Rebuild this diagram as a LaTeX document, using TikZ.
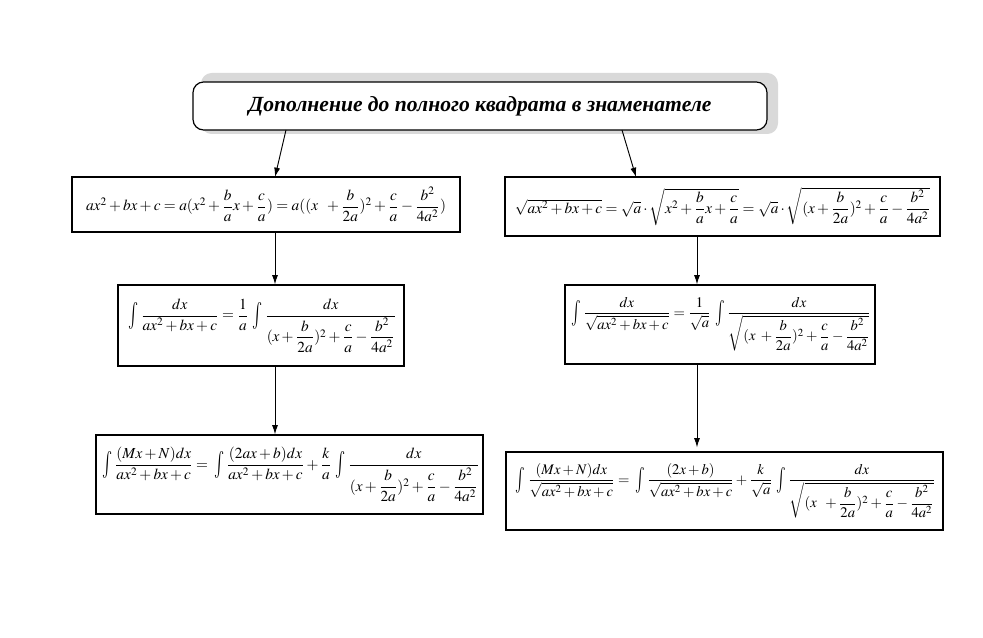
\documentclass[tikz,border=0pt]{standalone}
\usepackage{amsmath}
\usepackage{graphicx}
\usepackage{mathptmx}
\usepackage{fontspec}
\setmainfont{Liberation Serif}
\usetikzlibrary{arrows.meta}
\newcommand{\Int}{\mkern3mu\mathop{\vcenter{\hbox{\scalebox{1.1}[1.75]{$\textstyle\int$}}}}\mkern1mu}
\tikzset{
  fbox/.style={draw, line width=0.9pt, minimum width=#1, inner sep=0pt, font=\fontsize{11.5}{13.5}\selectfont},
  arr/.style={line width=0.7pt, -{Latex[length=7pt,width=4.5pt]}},
}
\begin{document}
\begin{tikzpicture}[x=0.75pt,y=-0.75pt]
\useasboundingbox (0,0) rectangle (983,638);
\fill[white] (0,0) rectangle (983,638);
% shadow of the title box
\fill[gray!30, rounded corners=8pt] (201,73) rectangle (778,134);
\node[draw, line width=0.9pt, fill=white, rounded corners=8pt, minimum width=430.5pt, minimum height=36pt, font=\fontsize{16.2}{18}\selectfont\bfseries\itshape] (top) at (480,106) {Дополнение до полного квадрата в знаменателе};

\node[fbox=291pt, minimum height=41.25pt] (l1) at (266,204.5)
  {$ax^2+bx+c=a(x^2+\dfrac{b}{a}x+\dfrac{c}{a})=a((x\;\;+\dfrac{b}{2a})^2+\dfrac{c}{a}-\dfrac{b^2}{4a^2})$};
\node[fbox=326.25pt, minimum height=44.25pt] (r1) at (722.5,206.5)
  {$\sqrt{ax^2+bx+c}=\sqrt{a}\cdot\sqrt{x^2+\dfrac{b}{a}x+\dfrac{c}{a}}=\sqrt{a}\cdot\sqrt{(x+\dfrac{b}{2a})^2+\dfrac{c}{a}-\dfrac{b^2}{4a^2}}$};
\node[fbox=214.5pt, minimum height=60.75pt] (l2) at (261,325.5)
  {$\Int\dfrac{dx}{ax^2+bx+c}=\dfrac{1}{a}\Int\dfrac{dx}{(x+\dfrac{b}{2a})^2+\dfrac{c}{a}-\dfrac{b^2}{4a^2}}$};
\node[fbox=232.5pt, minimum height=59.25pt, font=\fontsize{11}{13}\selectfont] (r2) at (720,324.5)
  {$\Int\dfrac{dx}{\sqrt{ax^2+bx+c}}=\dfrac{1}{\sqrt{a}}\Int\dfrac{dx}{\sqrt{(x\;+\dfrac{b}{2a})^2+\dfrac{c}{a}-\dfrac{b^2}{4a^2}}}$};
\node[fbox=290.25pt, minimum height=59.25pt] (l3) at (289.5,474.5)
  {$\Int\dfrac{(Mx+N)dx}{ax^2+bx+c}=\Int\dfrac{(2ax+b)dx}{ax^2+bx+c}+\dfrac{k}{a}\Int\dfrac{dx}{(x+\dfrac{b}{2a})^2+\dfrac{c}{a}-\dfrac{b^2}{4a^2}}$};
\node[fbox=327.75pt, minimum height=58.5pt, font=\fontsize{11}{13}\selectfont] (r3) at (724.5,491)
  {$\Int\dfrac{(Mx+N)dx}{\sqrt{ax^2+bx+c}}=\Int\dfrac{(2x+b)}{\sqrt{ax^2+bx+c}}+\dfrac{k}{\sqrt{a}}\Int\dfrac{dx}{\sqrt{(x\;\;+\dfrac{b}{2a})^2+\dfrac{c}{a}-\dfrac{b^2}{4a^2}}}$};

\coordinate (ta) at (286,130);
\coordinate (tb) at (622,130);
\coordinate (la) at (275,177);
\coordinate (rb) at (636,177);
\draw[arr] (ta) -- (la);
\draw[arr] (tb) -- (rb);
\draw[arr] (l1.south -| 275,0) -- (l2.north -| 275,0);
\draw[arr] (l2.south -| 275,0) -- (l3.north -| 275,0);
\draw[arr] (r1.south -| 697,0) -- (r2.north -| 697,0);
\draw[arr] (r2.south -| 697,0) -- ([yshift=3pt]r3.north -| 697,0);
\end{tikzpicture}
\end{document}
